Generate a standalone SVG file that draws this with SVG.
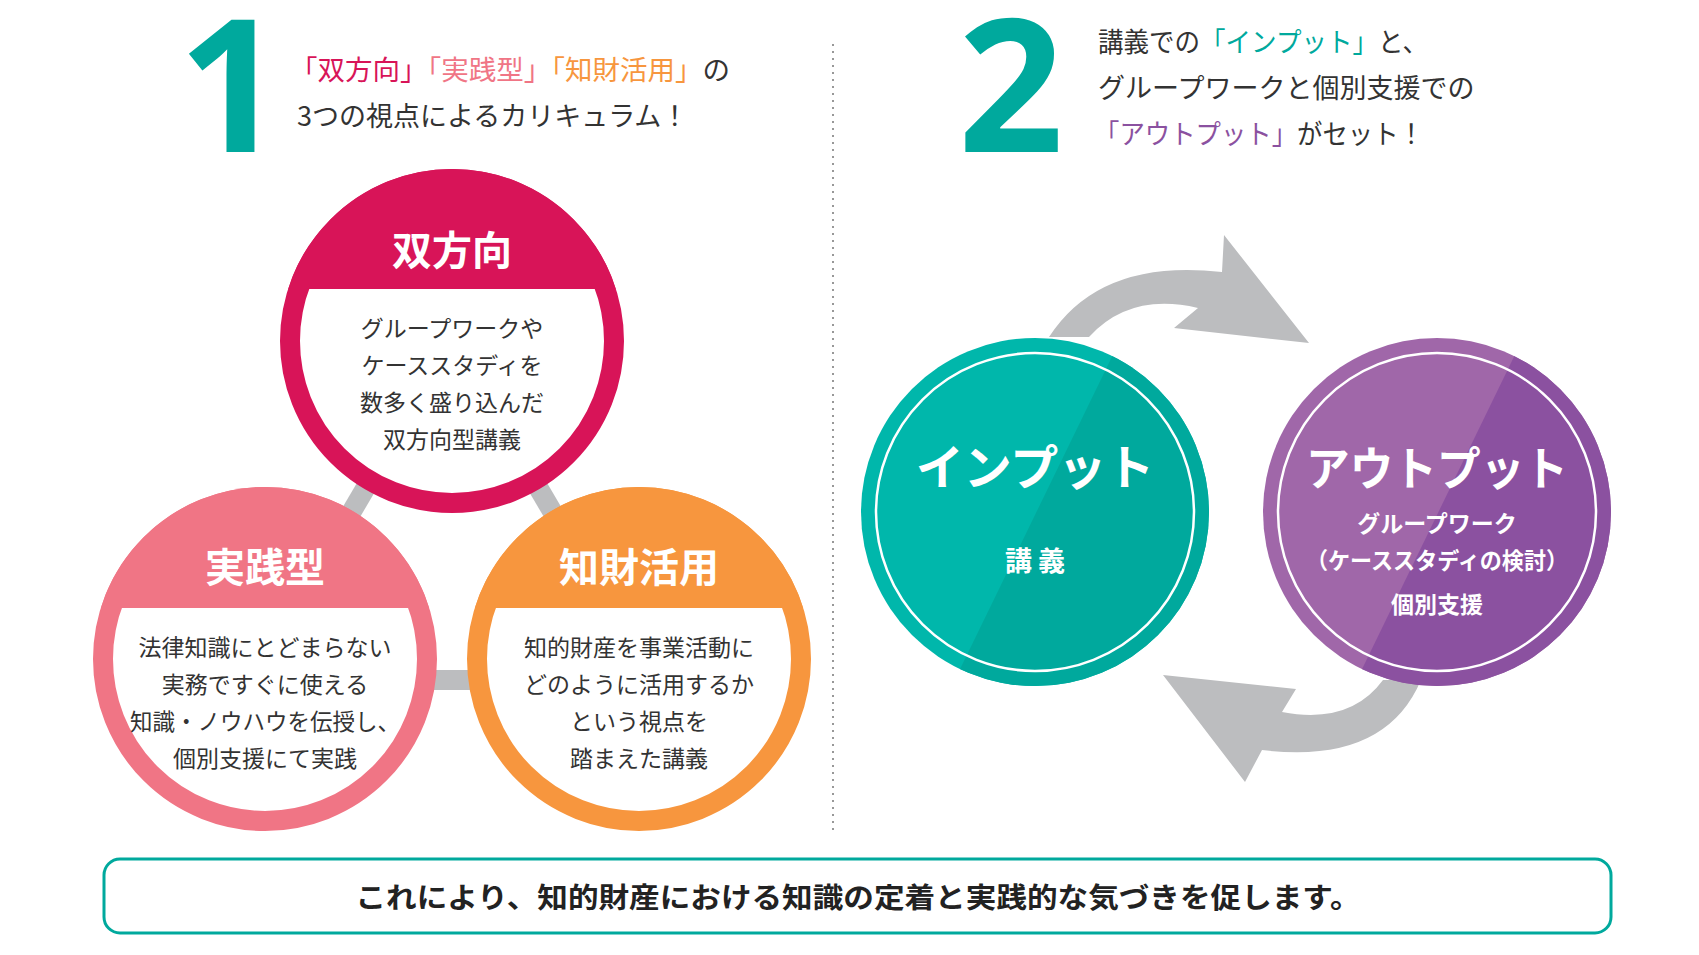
<svg xmlns="http://www.w3.org/2000/svg" width="1699" height="955" viewBox="0 0 1699 955">
<style>
text{font-family:"Noto Sans CJK JP","Noto Sans",sans-serif}
.body{font-size:23px;fill:#333;text-anchor:middle}
.title{font-size:40px;font-weight:bold;fill:#fff;text-anchor:middle}
.head{font-size:27px;fill:#333}
.num{font-family:"Open Sans","Liberation Sans",sans-serif;font-weight:bold;font-size:185px;fill:#00a99d}
.conn{stroke:#bcbdbf;stroke-width:20}
</style>
<defs>
<clipPath id="ci"><circle cx="1035" cy="512" r="174"/></clipPath>
<clipPath id="co"><circle cx="1437" cy="512" r="174"/></clipPath>
<clipPath id="c1"><circle cx="452" cy="341" r="172"/></clipPath>
<clipPath id="c2"><circle cx="265" cy="659" r="172"/></clipPath>
<clipPath id="c3"><circle cx="639" cy="659" r="172"/></clipPath>
</defs>
<rect width="1699" height="955" fill="#fff"/>
<line x1="833" y1="44" x2="833" y2="833" stroke="#777" stroke-width="1.5" stroke-dasharray="2,5"/>
<text class="num" x="178" y="152">1</text>
<text class="head" x="290" y="80" textLength="440" lengthAdjust="spacingAndGlyphs"><tspan fill="#d81458">「双方向」</tspan><tspan fill="#f07585">「実践型」</tspan><tspan fill="#f7963e">「知財活用」</tspan>の</text>
<text class="head" x="297" y="126" font-size="28">3つの視点によるカリキュラム！</text>
<text class="num" x="958" y="152">2</text>
<text class="head" x="1098" y="52" textLength="330" lengthAdjust="spacingAndGlyphs">講義での<tspan fill="#00a99d">「インプット」</tspan>と、</text>
<text class="head" x="1098" y="98">グループワークと個別支援での</text>
<text class="head" x="1094" y="144" textLength="330" lengthAdjust="spacingAndGlyphs"><tspan fill="#8b51a0">「アウトプット」</tspan>がセット！</text>
<g id="connectors">
<line class="conn" x1="452" y1="341" x2="265" y2="659"/>
<line class="conn" x1="452" y1="341" x2="639" y2="659"/>
<line class="conn" x1="265" y1="680" x2="639" y2="680"/>
<path d="M1049,337 Q1100,258 1222,272 L1224,235 L1309,343 L1174,328 L1198,308 Q1130,292 1089,337 Z" fill="#bcbdbf"/>
<path d="M1421,680 Q1385,765 1262,750 L1245,782 L1163,675 L1296,689 L1282,712 Q1350,725 1383,680 Z" fill="#bcbdbf"/>
</g>
<g id="n-sohoko">
<circle cx="452" cy="341" r="162" fill="#fff" stroke="#d81458" stroke-width="20"/>
<rect x="270" y="160" width="370" height="129" fill="#d81458" clip-path="url(#c1)"/>
<text class="title" x="452" y="265">双方向</text>
<text class="body" x="452" y="337">グループワークや</text>
<text class="body" x="452" y="374">ケーススタディを</text>
<text class="body" x="452" y="411">数多く盛り込んだ</text>
<text class="body" x="452" y="448">双方向型講義</text>
</g>
<g id="n-jissen">
<circle cx="265" cy="659" r="162" fill="#fff" stroke="#f07585" stroke-width="20"/>
<rect x="85" y="480" width="370" height="128" fill="#f07585" clip-path="url(#c2)"/>
<text class="title" x="265" y="582">実践型</text>
<text class="body" x="265" y="656">法律知識にとどまらない</text>
<text class="body" x="265" y="693">実務ですぐに使える</text>
<text class="body" x="265" y="730" textLength="270" lengthAdjust="spacingAndGlyphs">知識・ノウハウを伝授し、</text>
<text class="body" x="265" y="767">個別支援にて実践</text>
</g>
<g id="n-chizai">
<circle cx="639" cy="659" r="162" fill="#fff" stroke="#f7963e" stroke-width="20"/>
<rect x="460" y="480" width="370" height="128" fill="#f7963e" clip-path="url(#c3)"/>
<text class="title" x="639" y="582">知財活用</text>
<text class="body" x="639" y="656">知的財産を事業活動に</text>
<text class="body" x="639" y="693">どのように活用するか</text>
<text class="body" x="639" y="730">という視点を</text>
<text class="body" x="639" y="767">踏まえた講義</text>
</g>
<g id="n-input">
<circle cx="1035" cy="512" r="174" fill="#00b7ab"/>
<polygon points="1125,330 1230,330 1230,700 945,700" fill="#00a99d" clip-path="url(#ci)"/>
<circle cx="1035" cy="512" r="159" fill="none" stroke="#fff" stroke-width="2.5"/>
<text x="1035" y="485" font-size="48" font-weight="bold" fill="#fff" text-anchor="middle">インプット</text>
<text x="1035" y="571" font-size="27" font-weight="bold" fill="#fff" text-anchor="middle">講 義</text>
</g>
<g id="n-output">
<circle cx="1437" cy="512" r="174" fill="#a067a9"/>
<polygon points="1527,330 1632,330 1632,700 1347,700" fill="#8b51a0" clip-path="url(#co)"/>
<circle cx="1437" cy="512" r="159" fill="none" stroke="#fff" stroke-width="2.5"/>
<text x="1437" y="485" font-size="46" font-weight="bold" fill="#fff" text-anchor="middle" textLength="262" lengthAdjust="spacingAndGlyphs">アウトプット</text>
<text x="1437" y="532" font-size="23" font-weight="bold" fill="#fff" text-anchor="middle">グループワーク</text>
<text x="1437" y="569" font-size="23" font-weight="bold" fill="#fff" text-anchor="middle" textLength="262" lengthAdjust="spacingAndGlyphs">（ケーススタディの検討）</text>
<text x="1437" y="613" font-size="23" font-weight="bold" fill="#fff" text-anchor="middle">個別支援</text>
</g>
<g id="n-summary">
<rect x="104" y="859" width="1507" height="74" rx="16" fill="#fff" stroke="#00a99d" stroke-width="3"/>
<text x="858" y="908" font-size="28" font-weight="bold" fill="#222" text-anchor="middle" textLength="1005" lengthAdjust="spacingAndGlyphs">これにより、知的財産における知識の定着と実践的な気づきを促します。</text>
</g>
</svg>
